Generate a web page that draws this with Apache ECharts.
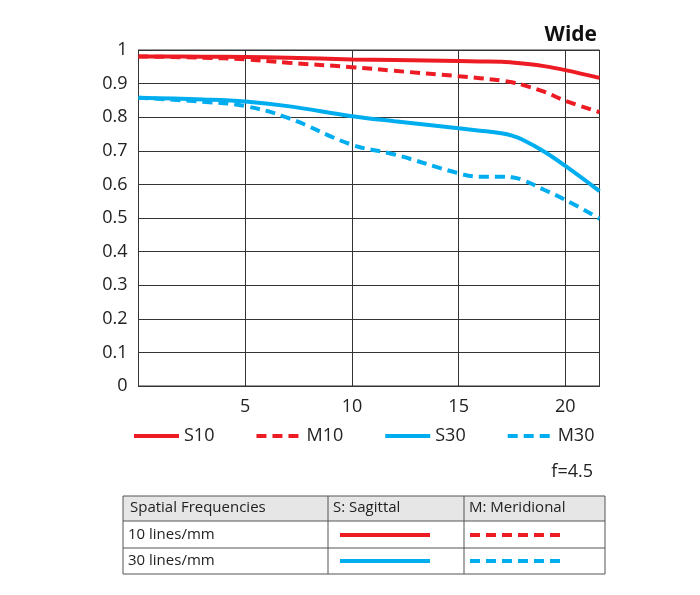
<!DOCTYPE html>
<html lang="en">
<head>
    <meta charset="UTF-8">
    <title>MTF Wide</title>
    <script src="https://cdn.jsdelivr.net/npm/echarts@6/dist/echarts.min.js"></script>
</head>
<body style="margin:0;background:#fff">
<div id="main" style="width: 700px;height: 595px"></div>
<script>
    // image height (mm) and MTF values
    var heights = [0, 3, 5, 7, 10, 12, 15, 16, 17, 17.5, 18, 19, 20, 21.6];
    var s10 = [0.981, 0.980, 0.979, 0.977, 0.972, 0.970, 0.967, 0.966, 0.965, 0.963, 0.960, 0.952, 0.940, 0.917];
    var m10 = [0.981, 0.977, 0.972, 0.962, 0.949, 0.938, 0.922, 0.916, 0.909, 0.904, 0.896, 0.876, 0.849, 0.815];
    var s30 = [0.858, 0.853, 0.847, 0.833, 0.803, 0.788, 0.767, 0.760, 0.752, 0.745, 0.733, 0.698, 0.655, 0.580];
    var m30 = [0.858, 0.846, 0.833, 0.798, 0.718, 0.689, 0.633, 0.623, 0.623, 0.621, 0.613, 0.584, 0.554, 0.498];
    var names = ['S10', 'M10', 'S30', 'M30'];

    var RED = '#ed1c24';
    var BLUE = '#00aeef';
    var FONT = 'Open Sans';
    var DASH = [10, 6];

    function pairs(ys) {
        return heights.map(function (h, i) { return [h, ys[i]]; });
    }

    function curve(name, ys, color, dashed) {
        return {
            name: name,
            type: 'line',
            data: pairs(ys),
            smooth: 0.4,
            symbol: 'none',
            lineStyle: { color: color, width: 4, type: dashed ? DASH : 'solid' },
            itemStyle: { color: color }
        };
    }

    // table at the bottom
    var tx = 123, tw = 482, c1 = 328, c2 = 464;
    var rows = [496, 521, 548, 574];
    var gridStroke = { stroke: '#555', lineWidth: 1 };
    var cellFont = '15px ' + FONT;
    var tableGraphic = [
        { type: 'rect', shape: { x: tx, y: rows[0], width: tw, height: rows[1] - rows[0] }, style: { fill: '#e6e6e6' } },
        { type: 'rect', shape: { x: tx, y: rows[0], width: tw, height: rows[3] - rows[0] }, style: { fill: 'none', stroke: '#555', lineWidth: 1 } },
        { type: 'line', shape: { x1: tx, y1: rows[1], x2: tx + tw, y2: rows[1] }, style: gridStroke },
        { type: 'line', shape: { x1: tx, y1: rows[2], x2: tx + tw, y2: rows[2] }, style: gridStroke },
        { type: 'line', shape: { x1: c1, y1: rows[0], x2: c1, y2: rows[3] }, style: gridStroke },
        { type: 'line', shape: { x1: c2, y1: rows[0], x2: c2, y2: rows[3] }, style: gridStroke },
        { type: 'text', x: 130, y: 508, style: { text: 'Spatial Frequencies', font: cellFont, fill: '#222', verticalAlign: 'middle' } },
        { type: 'text', x: 333, y: 508, style: { text: 'S: Sagittal', font: cellFont, fill: '#222', verticalAlign: 'middle' } },
        { type: 'text', x: 469, y: 508, style: { text: 'M: Meridional', font: cellFont, fill: '#222', verticalAlign: 'middle' } },
        { type: 'text', x: 128, y: 535, style: { text: '10 lines/mm', font: cellFont, fill: '#222', verticalAlign: 'middle' } },
        { type: 'text', x: 128, y: 561, style: { text: '30 lines/mm', font: cellFont, fill: '#222', verticalAlign: 'middle' } },
        { type: 'line', shape: { x1: 340, y1: 535, x2: 430, y2: 535 }, style: { stroke: RED, lineWidth: 4 } },
        { type: 'line', shape: { x1: 470, y1: 535, x2: 566, y2: 535 }, style: { stroke: RED, lineWidth: 4, lineDash: DASH } },
        { type: 'line', shape: { x1: 340, y1: 561, x2: 430, y2: 561 }, style: { stroke: BLUE, lineWidth: 4 } },
        { type: 'line', shape: { x1: 470, y1: 561, x2: 566, y2: 561 }, style: { stroke: BLUE, lineWidth: 4, lineDash: DASH } },
        { type: 'text', x: 593, y: 472, style: { text: 'f=4.5', font: '18px ' + FONT, fill: '#222', align: 'right', verticalAlign: 'middle' } }
    ];

    var myChart = echarts.init(document.getElementById('main'));
    var option = {
        backgroundColor: '#fff',
        animation: false,
        title: {
            text: 'Wide',
            right: 98,
            top: 20,
            textStyle: { fontFamily: FONT, fontWeight: 'bold', fontSize: 21, color: '#111' }
        },
        legend: {
            data: names,
            left: 132,
            top: 427,
            padding: 0,
            itemWidth: 45,
            itemHeight: 14,
            itemGap: 40,
            itemStyle: { opacity: 0 },
            lineStyle: { width: 4 },
            textStyle: { fontFamily: FONT, fontSize: 18, color: '#222' }
        },
        grid: {
            left: 138.5,
            right: 100.5,
            top: 50,
            bottom: 209,
            show: true,
            borderColor: '#333',
            borderWidth: 1
        },
        xAxis: {
            type: 'value',
            min: 0,
            max: 21.6,
            interval: 5,
            axisLine: { lineStyle: { color: '#333' } },
            axisTick: { show: false },
            axisLabel: { showMinLabel: false, showMaxLabel: false, fontFamily: FONT, fontSize: 18, color: '#222', margin: 12 },
            splitLine: { lineStyle: { color: '#333', width: 1 } }
        },
        yAxis: {
            type: 'value',
            min: 0,
            max: 1,
            interval: 0.1,
            axisLine: { show: true, lineStyle: { color: '#333' } },
            axisTick: { show: false },
            axisLabel: { fontFamily: FONT, fontSize: 18, color: '#222', margin: 11 },
            splitLine: { lineStyle: { color: '#333', width: 1 } }
        },
        graphic: tableGraphic,
        series: [
            curve('S10', s10, RED, false),
            curve('M10', m10, RED, true),
            curve('S30', s30, BLUE, false),
            curve('M30', m30, BLUE, true)
        ]
    };
    myChart.setOption(option);
</script>
</body>
</html>
